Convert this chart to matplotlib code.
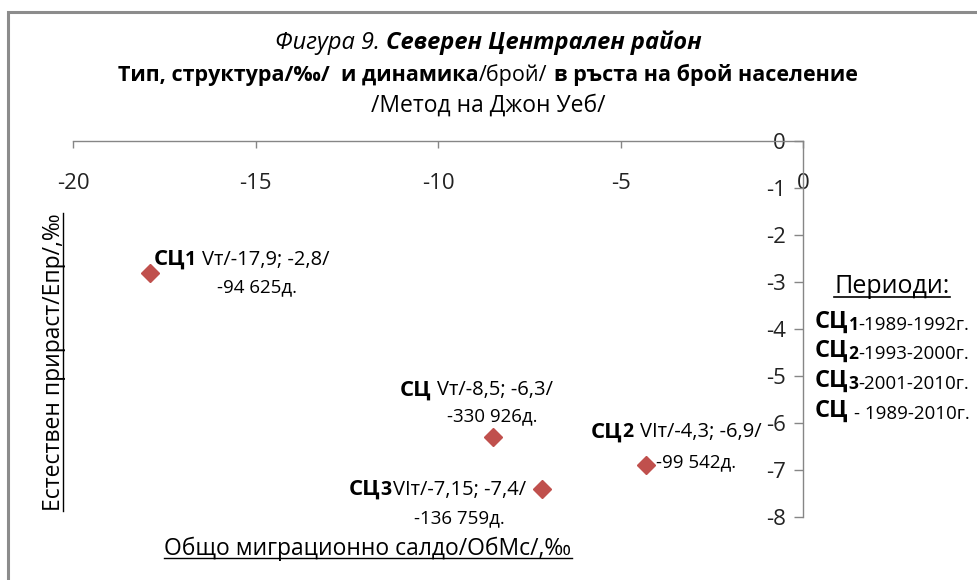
import matplotlib.pyplot as plt
from matplotlib.lines import Line2D
from matplotlib.patches import Rectangle
from matplotlib.transforms import IdentityTransform

plt.rcParams['font.family'] = ['Open Sans', 'DejaVu Sans']
plt.rcParams['axes.unicode_minus'] = False

# data
names = ['СЦ1', 'СЦ2', 'СЦ3', 'СЦ']
types = ['Vт', 'VIт', 'VIт', 'Vт']
omc = [-17.9, -4.3, -7.15, -8.5]       # общо миграционно салдо, ‰
epr = [-2.8, -6.9, -7.4, -6.3]         # естествен прираст, ‰
pop = ['-94 625д.', '-99 542д.', '-136 759д.', '-330 926д.']
periods = ['-1989-1992г.', '-1993-2000г.', '-2001-2010г.', '- 1989-2010г.']
xticks = [-20, -15, -10, -5, 0]
yticks = [-8, -7, -6, -5, -4, -3, -2, -1, 0]

# label layout (pixel offsets from marker: left edge, baseline)
lab1_off = [(4, 8), (-55, 28), (-193, -6), (-93, 42)]
lab2_off = [(67, -20), (10, -2), (-128, -34), (-46, 16)]
lab_gap = [6, 6, 1, 6]

W, H = 977, 580
GRAY = '#868686'
RED = '#C0504D'

fig = plt.figure(figsize=(W / 100, H / 100), dpi=100)
fig.add_artist(Rectangle((8, -20), 1200, H - 12 + 20, fill=False,
                         edgecolor='#8c8c8c', lw=2.2, transform=IdentityTransform()))

ax = fig.add_axes([73 / W, 1 - 517 / H, 730 / W, 376 / H])
ax.plot(omc, epr, 'D', color=RED, ms=9.5, ls='none', clip_on=False)
ax.set_xlim(-20, 0)
ax.set_ylim(-8, 0)
ax.spines['left'].set_position(('data', 0))
ax.spines['bottom'].set_position(('data', 0))
ax.spines['top'].set_visible(False)
ax.spines['right'].set_visible(False)
for s in ('left', 'bottom'):
    ax.spines[s].set_color(GRAY)
    ax.spines[s].set_linewidth(1)
ax.set_xticks(xticks)
ax.set_yticks(yticks)
ax.tick_params(axis='x', direction='out', length=5, width=1, color=GRAY, pad=18,
               labelsize=16, labelcolor='#222222')
ax.tick_params(axis='y', direction='out', length=6.5, width=1, color=GRAY, pad=6,
               labelsize=16, labelcolor='#222222')


def rich(pieces, xy, xycoords, offset=(0, 0)):
    # pieces: (text, gap_px, kwargs) chained left to right on one baseline
    arts = []
    s, gap, kw = pieces[0]
    t = ax.annotate(s, xy=xy, xycoords=xycoords, xytext=offset,
                    textcoords='offset pixels', ha='left', va='baseline',
                    annotation_clip=False, color='black', **kw)
    arts.append(t)
    for s, gap, kw in pieces[1:]:
        t = ax.annotate(s, xy=(1, 0), xycoords=arts[-1], xytext=(gap, 0),
                        textcoords='offset pixels', ha='left', va='bottom',
                        color='black', **kw)
        arts.append(t)
    return arts


B = dict(fontweight='bold')

# data labels
for i in range(len(names)):
    xt = str(omc[i]).replace('.', ',')
    yt = str(epr[i]).replace('.', ',')
    p1 = [(names[i][:2], 0, dict(fontsize=16, **B))]
    if names[i][2:]:
        p1.append((names[i][2:], 0, dict(fontsize=14, **B)))
    p1.append((f'{types[i]}/{xt}; {yt}/', lab_gap[i], dict(fontsize=14.5)))
    rich(p1, (omc[i], epr[i]), 'data', lab1_off[i])
    rich([(pop[i], 0, dict(fontsize=13.5))], (omc[i], epr[i]), 'data', lab2_off[i])

# title
title_lines = [
    ([('Фигура 9.', 0, dict(fontsize=17, style='italic')),
      ('Северен Централен район', 6, dict(fontsize=17, style='italic', **B))], 49),
    ([('Тип, структура/‰/  и динамика', 0, dict(fontsize=15.5, **B)),
      ('/брой/', 0, dict(fontsize=15.5)),
      ('в ръста на брой население', 6, dict(fontsize=15.5, **B))], 81),
    ([('/Метод на Джон Уеб/', 0, dict(fontsize=16.5))], 112),
]
lines = [(rich(p, (0, H - yb), 'figure pixels'), yb) for p, yb in title_lines]

# legend block
per_t = ax.annotate('Периоди:', xy=(892, H - 293), xycoords='figure pixels',
                    ha='center', va='baseline', fontsize=18, annotation_clip=False)
for i in range(len(names)):
    p = [(names[i][:2], 0, dict(fontsize=17, **B))]
    if names[i][2:]:
        p.append((names[i][2:], 0, dict(fontsize=12.5, **B)))
        p.append((periods[i], 0, dict(fontsize=13.5)))
    else:
        p.append((periods[i], 6, dict(fontsize=13.5)))
    rich(p, (815, H - [328, 357, 387, 417][i]), 'figure pixels')

# axis titles
ylab = fig.text(60 / W, 1 - 362 / H, 'Естествен прираст/Епр/,‰', rotation=90,
                rotation_mode='anchor', ha='center', va='baseline', fontsize=16.5)
xlab = fig.text(368 / W, 1 - 555 / H, 'Общо миграционно салдо/ОбМс/,‰',
                ha='center', va='baseline', fontsize=16.5)

fig.canvas.draw()
r = fig.canvas.get_renderer()
for arts, yb in lines:
    x0 = arts[0].get_window_extent(r).x0
    x1 = arts[-1].get_window_extent(r).x1
    arts[0].xy = (488 - (x1 - x0) / 2, H - yb)

# underlines
bb = per_t.get_window_extent(r)
fig.add_artist(Line2D([bb.x0, bb.x1], [H - 297, H - 297], color='black', lw=1.2,
                      transform=IdentityTransform()))
bb = xlab.get_window_extent(r)
fig.add_artist(Line2D([bb.x0, bb.x1], [H - 558, H - 558], color='black', lw=1,
                      transform=IdentityTransform()))
bb = ylab.get_window_extent(r)
fig.add_artist(Line2D([63, 63], [bb.y0, bb.y1], color='black', lw=1,
                      transform=IdentityTransform()))

fig.savefig('out.png', dpi=100)
